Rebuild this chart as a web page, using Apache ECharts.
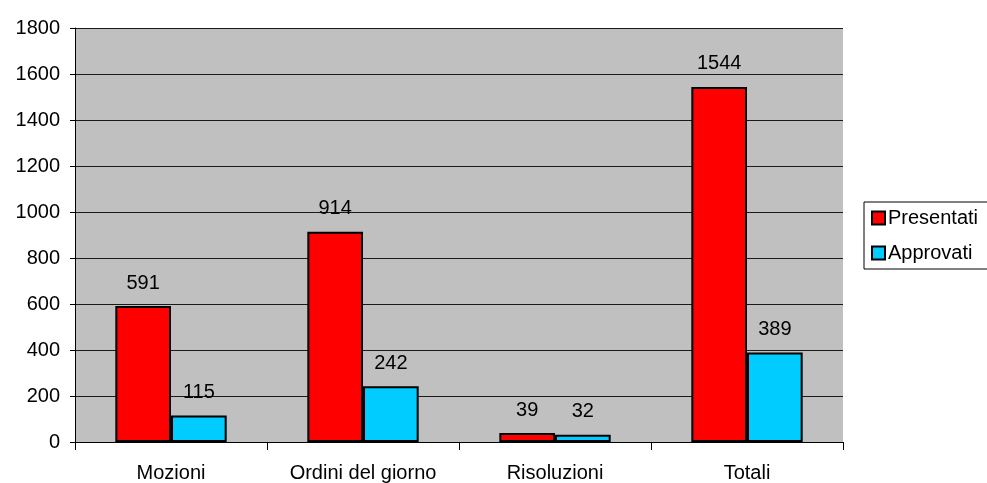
<!DOCTYPE html>
<html>
<head>
<meta charset="utf-8">
<script src="https://cdn.jsdelivr.net/npm/echarts@6/dist/echarts.min.js"></script>
<style>
  html, body { margin: 0; padding: 0; background: #fff; }
  #chart { width: 987px; height: 483px; }
</style>
</head>
<body>
<div id="chart"></div>
<script>
// Categories and values
const categories = ['Mozioni', 'Ordini del giorno', 'Risoluzioni', 'Totali'];
const presentati = [591, 914, 39, 1544];
const approvati = [115, 242, 32, 389];

const font = 'Liberation Sans, Arial, sans-serif';
const textSize = 20;

const valueLabel = {
  show: true, position: 'top', distance: 13,
  fontSize: textSize, color: '#000', fontFamily: font
};

const chart = echarts.init(document.getElementById('chart'));
chart.setOption({
  animation: false,
  textStyle: { fontFamily: font },
  grid: {
    left: 75, right: 144, top: 28, bottom: 40,
    show: true, backgroundColor: '#c0c0c0', borderWidth: 0
  },
  legend: {
    orient: 'vertical',
    left: 864, top: 202,
    padding: [6, 40, 6, 7],
    itemGap: 15,
    itemWidth: 13, itemHeight: 13,
    itemStyle: { borderColor: '#000', borderWidth: 2 },
    backgroundColor: '#fff',
    borderColor: '#000', borderWidth: 1,
    icon: 'rect',
    textStyle: { fontSize: textSize, color: '#000', fontFamily: font, padding: [0, 0, 0, -2] },
    data: ['Presentati', 'Approvati']
  },
  xAxis: {
    type: 'category',
    data: categories,
    axisLine: { lineStyle: { color: '#000', width: 1 } },
    axisTick: { show: true, length: 8, lineStyle: { color: '#000' } },
    axisLabel: { fontSize: textSize, color: '#000', margin: 21, fontFamily: font },
    splitLine: { show: false }
  },
  yAxis: {
    type: 'value',
    min: 0, max: 1800, interval: 200,
    axisLine: { show: true, lineStyle: { color: '#000', width: 1 } },
    axisTick: { show: true, length: 5, lineStyle: { color: '#000' } },
    axisLabel: {
      fontSize: textSize, color: '#000', margin: 15, fontFamily: font,
      formatter: v => String(v)
    },
    splitLine: { show: true, lineStyle: { color: '#1a1a1a', width: 1 } }
  },
  series: [
    {
      name: 'Presentati',
      type: 'bar',
      data: presentati,
      barGap: '0%',
      barCategoryGap: '42%',
      itemStyle: { color: '#ff0000', borderColor: '#000', borderWidth: 2 },
      label: valueLabel
    },
    {
      name: 'Approvati',
      type: 'bar',
      data: approvati,
      itemStyle: { color: '#00ccff', borderColor: '#000', borderWidth: 2 },
      label: valueLabel
    }
  ]
});
</script>
</body>
</html>
